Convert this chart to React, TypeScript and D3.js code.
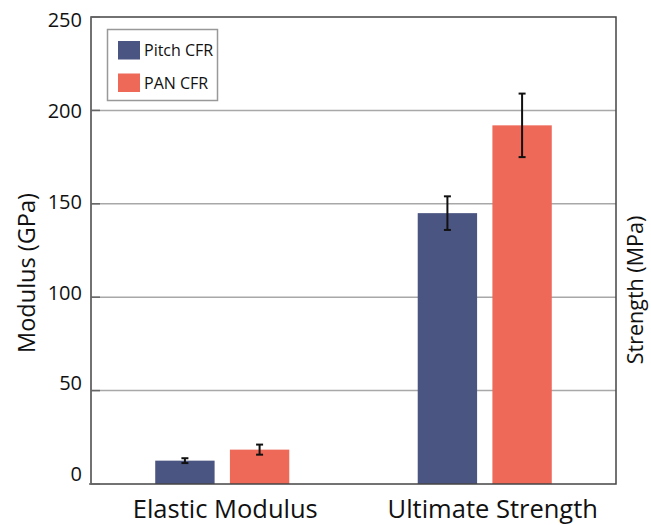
import React, { useEffect, useRef } from "react";
import * as d3 from "d3";

const categories = ["Elastic Modulus", "Ultimate Strength"];
const series = ["Pitch CFR", "PAN CFR"];
const pitchValues = [12.5, 145];
const pitchErrors = [1.3, 9];
const panValues = [18.4, 192];
const panErrors = [2.7, 17];
const yTicks = [0, 50, 100, 150, 200, 250];
const colors = ["#4b5581", "#ee6958"];

const App = () => {
    const svgRef = useRef(null);

    useEffect(() => {
        const width = 651;
        const height = 525;
        const margin = { top: 17, right: 35, bottom: 41, left: 91 };
        const font = "'Open Sans', sans-serif";

        d3.select(svgRef.current).selectAll("*").remove();

        const svg = d3
            .select(svgRef.current)
            .attr("width", width)
            .attr("height", height)
            .style("font-family", font);

        const rows = categories.map((c, i) => ({
            category: c,
            items: [
                { key: series[0], value: pitchValues[i], err: pitchErrors[i] },
                { key: series[1], value: panValues[i], err: panErrors[i] },
            ],
        }));

        const x0 = d3
            .scaleBand()
            .domain(categories)
            .range([margin.left, width - margin.right])
            .padding(0);

        const x1 = d3
            .scaleBand()
            .domain(series)
            .range([0, x0.bandwidth()])
            .paddingInner(0.205)
            .paddingOuter(0.86);

        const y = d3
            .scaleLinear()
            .domain([0, 250])
            .range([height - margin.bottom, margin.top]);

        // tick labels in the original sit a bit off the gridlines
        const yLabel = d3
            .scaleLinear()
            .domain([0, 250])
            .range([474, 20]);

        const color = d3.scaleOrdinal().domain(series).range(colors);

        // gridlines
        svg
            .append("g")
            .selectAll("line")
            .data(yTicks.filter((t) => t > 0 && t < 250))
            .enter()
            .append("line")
            .attr("x1", margin.left)
            .attr("x2", width - margin.right)
            .attr("y1", (d) => y(d))
            .attr("y2", (d) => y(d))
            .attr("stroke", "#a8a8a8")
            .attr("stroke-width", 1.5);

        // bars
        const groups = svg
            .append("g")
            .selectAll("g")
            .data(rows)
            .enter()
            .append("g")
            .attr("transform", (d) => `translate(${x0(d.category)},0)`);

        groups
            .selectAll("rect")
            .data((d) => d.items)
            .enter()
            .append("rect")
            .attr("x", (d) => x1(d.key))
            .attr("y", (d) => y(d.value))
            .attr("width", x1.bandwidth())
            .attr("height", (d) => y(0) - y(d.value))
            .attr("fill", (d) => color(d.key));

        // error bars
        const capW = 3.5;
        const eb = groups
            .selectAll("g.err")
            .data((d) => d.items)
            .enter()
            .append("g")
            .attr("class", "err")
            .attr("stroke", "#111")
            .attr("stroke-width", 2);

        eb.append("line")
            .attr("x1", (d) => x1(d.key) + x1.bandwidth() / 2)
            .attr("x2", (d) => x1(d.key) + x1.bandwidth() / 2)
            .attr("y1", (d) => y(d.value + d.err))
            .attr("y2", (d) => y(d.value - d.err));

        eb.selectAll("line.cap")
            .data((d) => [
                { x: x1(d.key) + x1.bandwidth() / 2, v: d.value + d.err },
                { x: x1(d.key) + x1.bandwidth() / 2, v: d.value - d.err },
            ])
            .enter()
            .append("line")
            .attr("class", "cap")
            .attr("x1", (d) => d.x - capW)
            .attr("x2", (d) => d.x + capW)
            .attr("y1", (d) => y(d.v))
            .attr("y2", (d) => y(d.v));

        // frame
        svg
            .append("rect")
            .attr("x", margin.left)
            .attr("y", margin.top)
            .attr("width", width - margin.left - margin.right)
            .attr("height", height - margin.top - margin.bottom)
            .attr("fill", "none")
            .attr("stroke", "#444")
            .attr("stroke-width", 1.5);

        // y tick marks + labels
        svg
            .append("g")
            .selectAll("line")
            .data(yTicks)
            .enter()
            .append("line")
            .attr("x1", (d) => (d === 0 ? margin.left - 2 : margin.left))
            .attr("x2", margin.left + 9)
            .attr("y1", (d) => y(d))
            .attr("y2", (d) => y(d))
            .attr("stroke", "#666")
            .attr("stroke-width", 1.5);

        svg
            .append("g")
            .selectAll("text")
            .data(yTicks)
            .enter()
            .append("text")
            .attr("x", 82)
            .attr("y", (d) => yLabel(d))
            .attr("dy", "0.36em")
            .attr("text-anchor", "end")
            .style("font-size", "20px")
            .attr("fill", "#111")
            .text((d) => d);

        // x labels
        svg
            .append("g")
            .selectAll("text")
            .data(categories)
            .enter()
            .append("text")
            .attr("x", (d, i) => x0(d) + x0.bandwidth() / 2 + 3 + i * 5)
            .attr("y", 518)
            .attr("text-anchor", "middle")
            .style("font-size", "25.5px")
            .attr("fill", "#111")
            .text((d) => d);

        // axis titles
        svg
            .append("text")
            .attr("transform", "translate(35,273) rotate(-90)")
            .attr("text-anchor", "middle")
            .style("font-size", "23.5px")
            .attr("fill", "#111")
            .text("Modulus (GPa)");

        svg
            .append("text")
            .attr("transform", "translate(643,290) rotate(-90)")
            .attr("text-anchor", "middle")
            .style("font-size", "21.5px")
            .attr("fill", "#111")
            .text("Strength (MPa)");

        // legend
        const legend = svg.append("g");
        legend
            .append("rect")
            .attr("x", 107.5)
            .attr("y", 29.5)
            .attr("width", 110)
            .attr("height", 71)
            .attr("fill", "white")
            .attr("stroke", "#999")
            .attr("stroke-width", 1.5);

        const li = legend
            .selectAll("g")
            .data(series)
            .enter()
            .append("g")
            .attr("transform", (d, i) => `translate(118,${41 + i * 32.5})`);

        li.append("rect")
            .attr("width", 22)
            .attr("height", 18.5)
            .attr("fill", (d) => color(d));

        li.append("text")
            .attr("x", 26)
            .attr("y", 9.5)
            .attr("dy", "0.36em")
            .style("font-size", "16px")
            .attr("fill", "#111")
            .text((d) => d);
    }, []);

    return (
        <svg
            ref={svgRef}
            style={{ position: "absolute", left: 0, top: 0, background: "white" }}
        ></svg>
    );
};

export default App;
